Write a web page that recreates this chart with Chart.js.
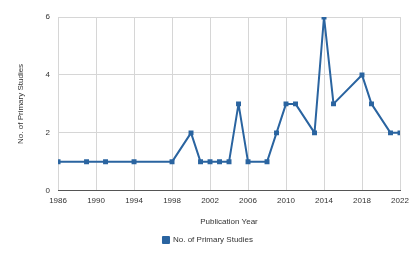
<!DOCTYPE html>
<html>
<head>
<meta charset="utf-8">
<script src="https://cdn.jsdelivr.net/npm/chart.js@4"></script>
<style>
  html, body { margin: 0; padding: 0; background: #fff; }
  #wrap { width: 417px; height: 258px; }
</style>
</head>
<body>
<div id="wrap"><canvas id="chart" width="417" height="258"></canvas></div>
<script>
// publication years and study counts
const years = [1986, 1989, 1991, 1994, 1998, 2000, 2001, 2002, 2003, 2004, 2005, 2006, 2008, 2009, 2010, 2011, 2013, 2014, 2015, 2018, 2019, 2021, 2022];
const studies = [1, 1, 1, 1, 1, 2, 1, 1, 1, 1, 3, 1, 1, 2, 3, 3, 2, 6, 3, 4, 3, 2, 2];
const seriesName = "No. of Primary Studies";
const xTitle = "Publication Year";
const yTitle = "No. of Primary Studies";

const blue = "#2a64a0";
const txt = "#333333";
const fontFam = "'Liberation Sans', Arial, sans-serif";

const points = years.map((y, i) => ({ x: y, y: studies[i] }));

new Chart(document.getElementById("chart"), {
  type: "line",
  data: {
    datasets: [{
      label: seriesName,
      data: points,
      borderColor: blue,
      backgroundColor: blue,
      borderWidth: 2,
      borderJoinStyle: "round",
      pointStyle: "rect",
      pointRadius: 3.5,
      pointBorderWidth: 0,
      tension: 0,
      clip: 0
    }]
  },
  options: {
    responsive: false,
    animation: false,
    layout: { padding: { left: 16, right: 17, top: 17, bottom: 4 } },
    plugins: {
      tooltip: { enabled: false },
      legend: {
        position: "bottom",
        labels: {
          boxWidth: 6,
          boxHeight: 6,
          padding: 4,
          color: txt,
          font: { family: fontFam, size: 8 }
        }
      }
    },
    scales: {
      x: {
        type: "linear",
        min: 1986,
        max: 2022,
        ticks: {
          stepSize: 4,
          color: txt,
          font: { family: fontFam, size: 8 },
          padding: 5,
          maxRotation: 0,
          callback: v => String(v)
        },
        grid: { color: "#d6d6d6", drawTicks: false },
        border: { color: "#555555" },
        title: {
          display: true,
          text: xTitle,
          color: txt,
          font: { family: fontFam, size: 8 },
          padding: { top: 7, bottom: 5 }
        }
      },
      y: {
        min: 0,
        max: 6,
        ticks: {
          stepSize: 2,
          color: txt,
          font: { family: fontFam, size: 8 },
          padding: 8
        },
        grid: { color: "#d6d6d6", drawTicks: false },
        border: { display: false },
        title: {
          display: true,
          text: yTitle,
          color: txt,
          font: { family: fontFam, size: 8 },
          padding: { top: 0, bottom: 12 }
        }
      }
    }
  }
});
</script>
</body>
</html>
